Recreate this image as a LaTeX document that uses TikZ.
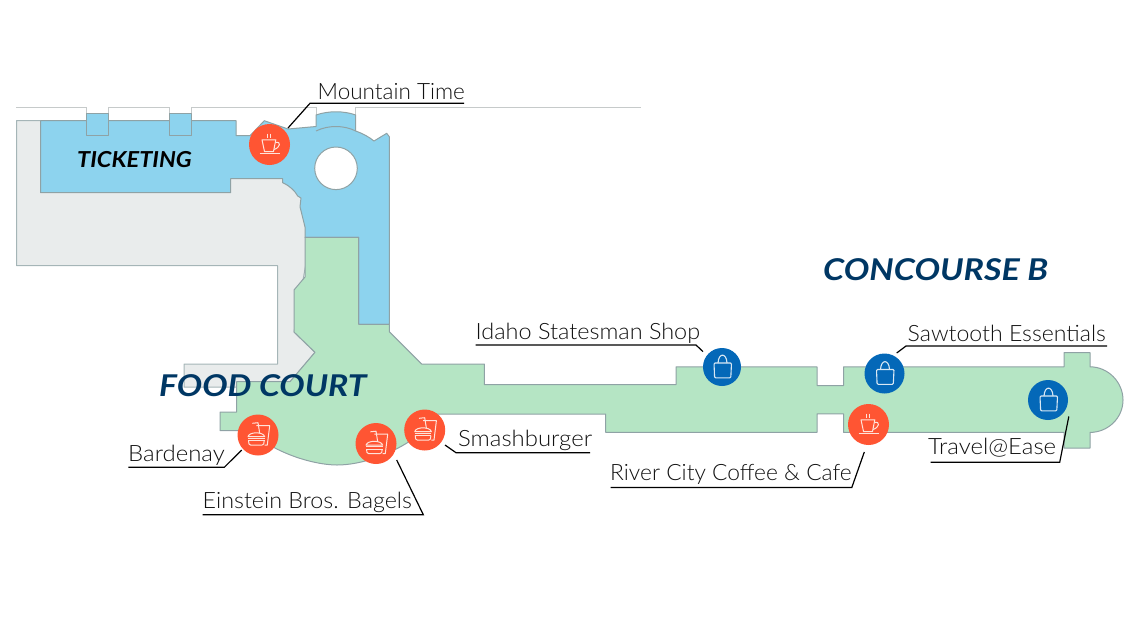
\documentclass[tikz,border=0pt]{standalone}
\usepackage{graphicx}
\usepackage{fontspec}
\usetikzlibrary{calc}
\setmainfont{Lato}
\newfontfamily\lightfont{Lato Light}
\definecolor{skyfill}{HTML}{8DD3EE}
\definecolor{greenfill}{HTML}{B5E5C4}
\definecolor{greyfill}{HTML}{E9ECEC}
\definecolor{edgecol}{HTML}{8FA2A5}
\definecolor{topline}{HTML}{C6CACA}
\definecolor{navy}{HTML}{003764}
\definecolor{orangec}{HTML}{FF5533}
\definecolor{bluec}{HTML}{0468B8}
\definecolor{iconline}{HTML}{FFE3DA}
\definecolor{labelcol}{HTML}{111111}
\tikzset{
 area/.style={draw=edgecol,line width=1pt,line join=round},
 leader/.style={draw=black,line width=1.2pt},
 lab/.style={anchor=base west,inner sep=0pt,text=labelcol,font=\lightfont\fontsize{22.5}{24}\selectfont},
 zone/.style={anchor=base west,inner sep=0pt,font=\bfseries\itshape},
 spot/.style={circle,inner sep=0pt,minimum size=#1},
 food/.style={spot=41pt,fill=orangec},
 shop/.style={spot=40pt,fill=bluec},
 icon/.style={draw=iconline,line width=1pt,line join=round},
 bagicon/.style={draw=white!85!bluec,line width=1.1pt,line join=round},
 coffee/.pic={
  \draw[icon] (-7.5,-4.7) -- (6.3,-4.7) -- (4,7) -- (-5,7) -- cycle;
  \draw[icon] (6,-2) .. controls (12,-3.5) and (11,3) .. (4.5,5);
  \draw[icon] (-10,9.2) -- (10.5,9.2);
  \draw[icon] (-1.7,-11) -- (-1.7,-7) (1,-11) -- (1,-7);
 },
 meal/.pic={
  \draw[icon] (-1.7,-9.3) -- (11.7,-9.3) -- (9.3,10) -- (6.7,10);
  \draw[icon] (-5.7,-11.7) -- (0,-12.3) -- (1.7,-1.7);
  \draw[icon] (-10,1.7) .. controls (-9,-3.5) and (5.5,-3.5) .. (6.7,1.7) -- cycle;
  \draw[icon] (-10,3.4) -- (6.7,3.4) (-10,5.6) -- (6.7,5.6);
  \draw[icon] (-9.5,5.6) -- (-9,9) .. controls (-8.7,10) .. (-7.5,10) -- (4.2,10) .. controls (5.5,10) .. (5.7,9) -- (6.2,5.6);
 },
 bag/.pic={
  \draw[bagicon,rounded corners=1pt] (-8,-4) -- (9.5,-4) -- (8.8,10.8) -- (-7.4,10.8) -- cycle;
  \draw[bagicon] (-4,-4) .. controls (-3.5,-14.5) and (4.5,-14.5) .. (5,-4);
 },
}
\begin{document}
\begin{tikzpicture}[x=1pt,y=-1pt]
\useasboundingbox (0,0) rectangle (1140,641);
% top wall line
\draw[draw=topline,line width=1pt] (16,107) -- (86,107) -- (86,114) (108,114) -- (108,107) -- (169,107) -- (169,114) (191,114) -- (191,107) -- (316,107) -- (316,116) (355.7,116) -- (355.7,107) -- (641,107);
% grey
\path[area,fill=greyfill,draw=edgecol!80] (16.5,120.7) -- (60,120.7) -- (60,178) -- (300,178) -- (310,240) -- (294,332) -- (315,352.3) -- (290,381.7) -- (237,381.7) -- (237,387) -- (184,387) -- (184,364) -- (277.5,364) -- (277.5,265.5) -- (16.5,265.5) -- cycle;
% blue
\path[area,fill=skyfill] (40.7,120.7) -- (236,120.7) -- (236,135.7) -- (250,135.7) -- (264.3,120.7) -- (288,129) -- (316,126.5) -- (316,115) .. controls (328,110.7) and (344,110.7) .. (355.7,115) -- (355.7,131) .. controls (363,133.5) and (369,137) .. (374,141) -- (386.7,133.3) -- (389.3,136.7) -- (389.3,324.3) -- (358.7,324.3) -- (358.7,237.3) -- (305,237.3) -- (305,227) -- (300,206.7) -- (301,198) -- (297.7,196) .. controls (295,191) and (290,186) .. (282.7,182.7) -- (282.7,178.7) -- (230.7,178.7) -- (230.7,192.7) -- (40.7,192.7) -- cycle;
\path[area,fill=skyfill] (86,113.5) -- (108,113.5) -- (108,135.7) -- (86,135.7) -- cycle;
\path[area,fill=skyfill] (169,113.5) -- (191,113.5) -- (191,135.7) -- (169,135.7) -- cycle;
\draw[area] (316,131) .. controls (328,125) and (344,125) .. (355.7,131);
\path[area,fill=white] (336,168.3) circle[radius=21.3];
% green
\path[area,fill=greenfill] (305,237.3) -- (358.7,237.3) -- (358.7,324.3) -- (389.3,324.3) -- (389.3,331.7) -- (421.7,364) -- (484.3,364) -- (484.3,384.7) -- (676,384.7) -- (676,366.8) -- (817,366.8) -- (817,385.5) -- (843.5,385.5) -- (843.5,366.8) -- (1064,366.8) -- (1064,352.6) -- (1090,352.6) -- (1090,366.8) .. controls (1108,366.8) and (1123,382) .. (1123,400) .. controls (1123,418) and (1108,432.4) .. (1090,432.4) -- (1090,448) -- (1064,448) -- (1064,432.4) -- (843.5,432.4) -- (843.5,413.8) -- (817,413.8) -- (817,432.4) -- (605.7,432.4) -- (605.7,414) -- (425,414) -- (425,430) .. controls (395,455) and (360,465) .. (337,465) .. controls (320,465) and (285,458) .. (254,435) -- (240,430.7) -- (220,430.7) -- (220,412) -- (236.7,412) -- (236.7,381.7) -- (290,381.7) -- (315,352.3) -- (294,332) -- (294,290) -- (305,277) -- cycle;
% zone names
\node[zone,text=black,font=\fontsize{22}{24}\selectfont\bfseries\itshape] (ticketing) at (77,167.5) {\scalebox{1.07}[1]{TICKETING}};
\node[zone,text=navy,font=\fontsize{30}{32}\selectfont\bfseries\itshape] (foodcourt) at (159,396) {\scalebox{1.125}[1]{FOOD COURT}};
\node[zone,text=navy,font=\fontsize{30}{32}\selectfont\bfseries\itshape] (concourse) at (823,280) {\scalebox{1.135}[1]{CONCOURSE B}};
% markers
\node[food] (cMt) at (269.5,144.5) {}; \pic at (cMt) {coffee};
\node[food] (cBa) at (258,435) {}; \pic at (cBa) {meal};
\node[food] (cEi) at (376,443.5) {}; \pic at (cEi) {meal};
\node[food] (cSm) at (424.7,430) {}; \pic at (cSm) {meal};
\node[food] (cRi) at (868.5,424.5) {}; \pic at (cRi) {coffee};
\node[shop,minimum size=38pt] (cId) at (722,367) {}; \pic at (cId) {bag};
\node[shop] (cSa) at (884.5,373.5) {}; \pic at (cSa) {bag};
\node[shop] (cTr) at (1048,400) {}; \pic at (cTr) {bag};
% labels
\node[lab] (lMt) at (317.5,99) {Mountain Time};
\node[lab] (lId) at (475.5,339) {\scalebox{1.042}[1]{Idaho Statesman Shop}};
\node[lab] (lSa) at (907.5,341) {\scalebox{1.026}[1]{Sawtooth Essentials}};
\node[lab] (lRi) at (610,480) {\scalebox{1.013}[1]{River City Coffee \& Cafe}};
\node[lab] (lTr) at (928,454.5) {\scalebox{1.065}[1]{Travel@Ease}};
\node[lab] (lBa) at (128,461) {\scalebox{1.065}[1]{Bardenay}};
\node[lab] (lEi) at (202.5,508) {\scalebox{1.035}[1]{Einstein Bros. Bagels}};
\node[lab] (lSm) at (458,446) {\scalebox{1.063}[1]{Smashburger}};
% leaders
\draw[leader] ($(cMt)+(18.5,-16.5)$) -- (310,103.3) -- (464,103.3);
\draw[leader] ($(cId)+(-19,-15.4)$) -- (696,345) -- (475.5,345);
\draw[leader] ($(cSa)+(12.2,-20.5)$) -- (906,346) -- (1107,346);
\draw[leader] ($(cRi)+(-4.2,27.5)$) -- (851.8,487.5) -- (610.5,487.5);
\draw[leader] ($(cTr)+(20.8,16.5)$) -- (1059.7,462.3) -- (930.6,462.3);
\draw[leader] ($(cBa)+(-16.3,15)$) -- (224.3,467.3) -- (128.3,467.3);
\draw[leader] ($(cEi)+(20.7,16.5)$) -- (423.3,514.7) -- (202.7,514.7);
\draw[leader] ($(cSm)+(20.3,15)$) -- (456,452.7) -- (590,452.7);
\end{tikzpicture}
\end{document}
